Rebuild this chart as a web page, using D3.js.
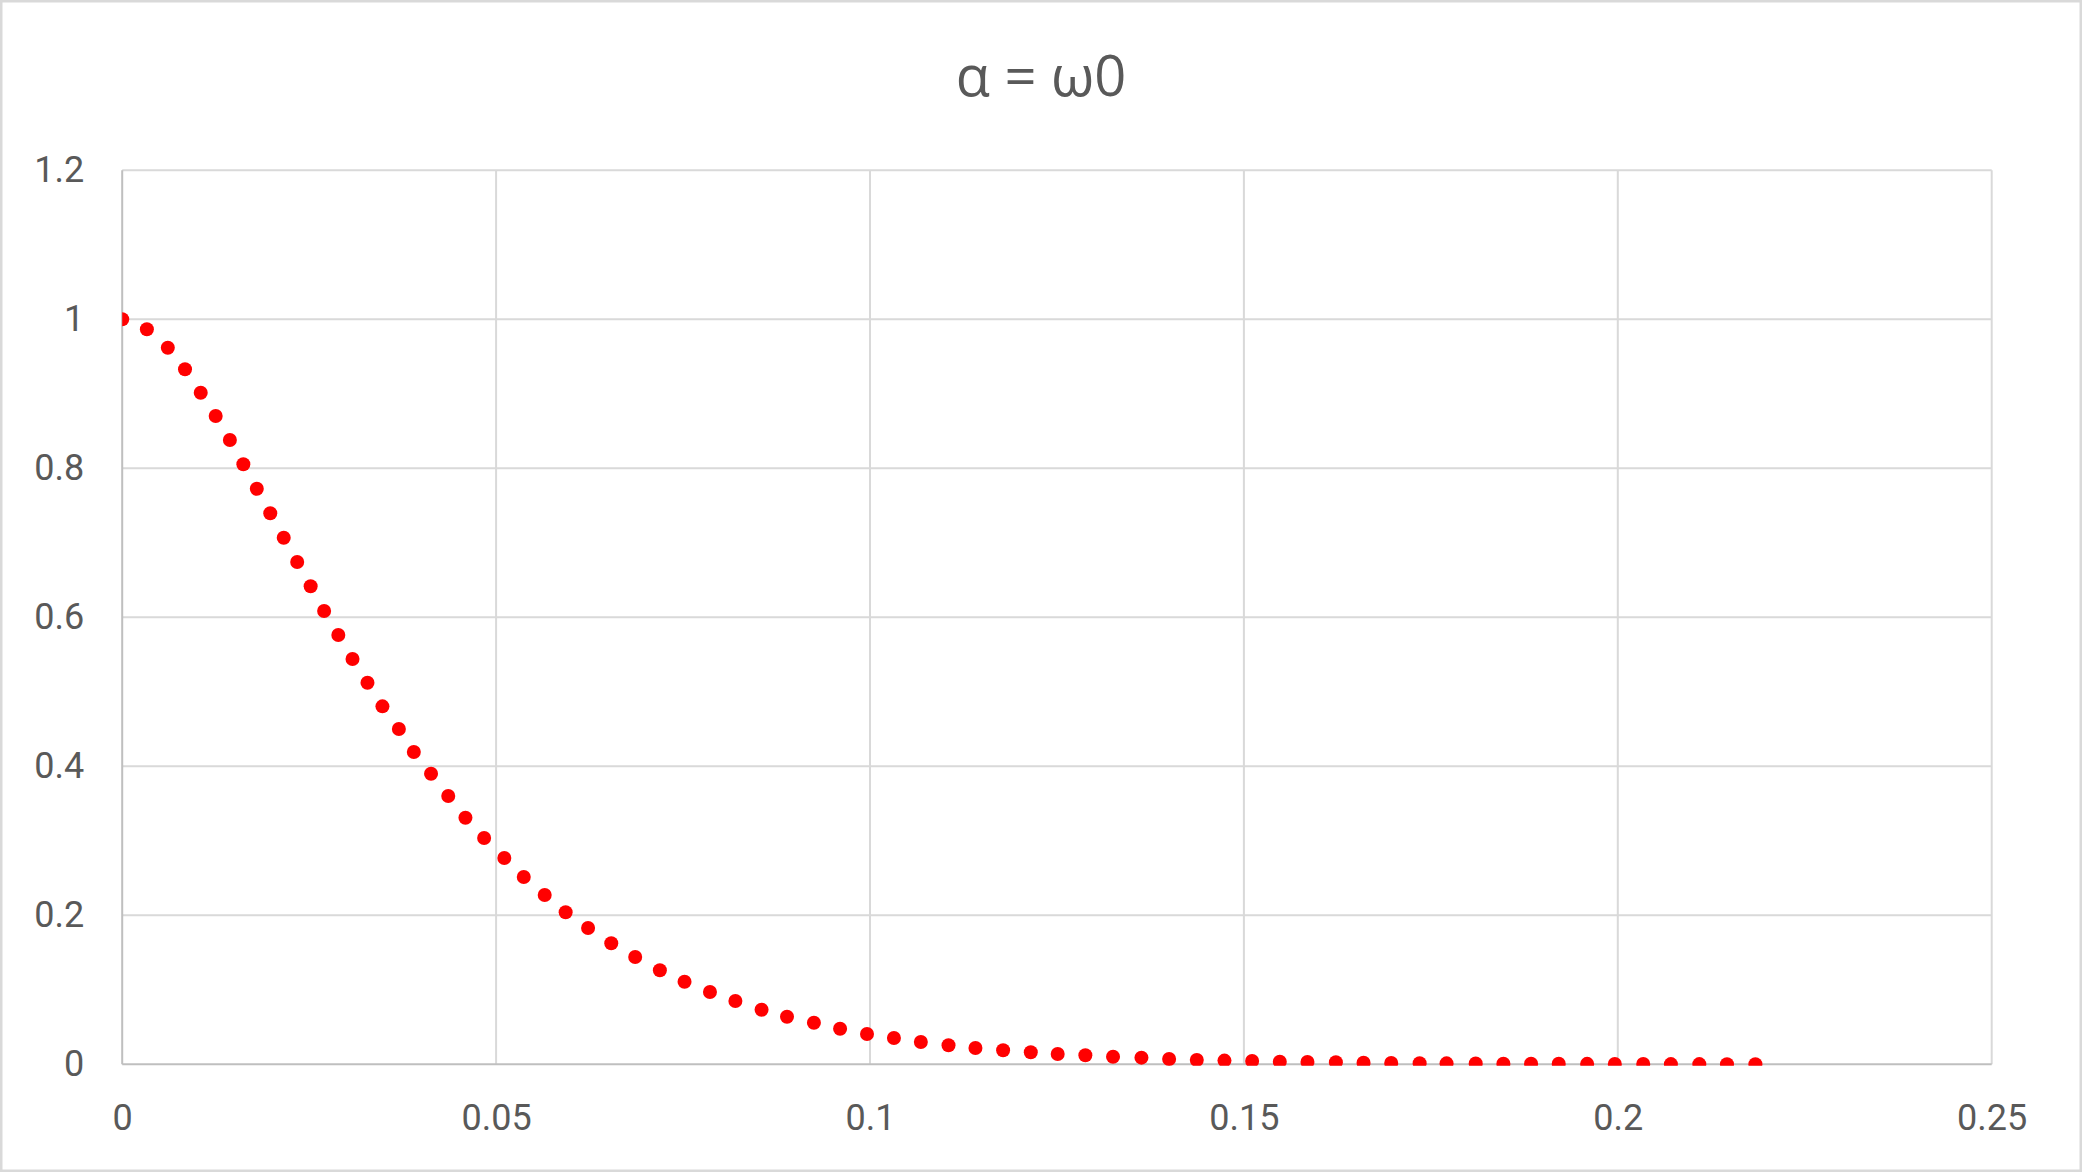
<!DOCTYPE html>
<html>
<head>
<meta charset="utf-8">
<script src="https://cdn.jsdelivr.net/npm/d3@7"></script>
<style>
  html, body { margin: 0; padding: 0; background: #ffffff; }
  svg { display: block; }
</style>
</head>
<body>
<svg id="chart" width="2082" height="1172"></svg>
<script>
// ---- data ----
const chartTitle = "α = ω0";

const xValues = [
  0.0000, 0.0033, 0.0061, 0.0084, 0.0105, 0.0125, 0.0144, 0.0162, 0.0180, 0.0198,
  0.0216, 0.0234, 0.0252, 0.0270, 0.0289, 0.0308, 0.0328, 0.0348, 0.0370, 0.0390,
  0.0413, 0.0436, 0.0459, 0.0484, 0.0511, 0.0537, 0.0565, 0.0593, 0.0623, 0.0654,
  0.0686, 0.0719, 0.0752, 0.0786, 0.0820, 0.0855, 0.0889, 0.0925, 0.0960, 0.0996,
  0.1032, 0.1068, 0.1105, 0.1141, 0.1178, 0.1215, 0.1251, 0.1288, 0.1325, 0.1363,
  0.1400, 0.1437, 0.1474, 0.1511, 0.1548, 0.1585, 0.1623, 0.1660, 0.1697, 0.1735,
  0.1771, 0.1810, 0.1847, 0.1884, 0.1921, 0.1959, 0.1996, 0.2034, 0.2071, 0.2109,
  0.2146, 0.2184
];

const yValues = [
  1.0000, 0.9866, 0.9619, 0.9329, 0.9015, 0.8702, 0.8380, 0.8054, 0.7726, 0.7396,
  0.7068, 0.6742, 0.6416, 0.6085, 0.5762, 0.5440, 0.5122, 0.4805, 0.4501, 0.4192,
  0.3901, 0.3601, 0.3310, 0.3038, 0.2769, 0.2514, 0.2272, 0.2040, 0.1830, 0.1624,
  0.1440, 0.1262, 0.1109, 0.0970, 0.0850, 0.0733, 0.0639, 0.0558, 0.0478, 0.0407,
  0.0353, 0.0299, 0.0255, 0.0219, 0.0188, 0.0161, 0.0138, 0.0121, 0.0102, 0.0089,
  0.0071, 0.0058, 0.0050, 0.0044, 0.0035, 0.0030, 0.0027, 0.0020, 0.0017, 0.0015,
  0.0013, 0.0011, 0.0009, 0.0008, 0.0007, 0.0006, 0.0005, 0.0004, 0.0003, 0.0003,
  0.0002, 0.0002
];

const xTicks = [0, 0.05, 0.1, 0.15, 0.2, 0.25];
const xTickLabels = ["0", "0.05", "0.1", "0.15", "0.2", "0.25"];
const yTicks = [0, 0.2, 0.4, 0.6, 0.8, 1.0, 1.2];
const yTickLabels = ["0", "0.2", "0.4", "0.6", "0.8", "1", "1.2"];

// ---- layout ----
const W = 2082, H = 1172;
const plot = { left: 122.2, right: 1991.7, top: 170.3, bottom: 1064.3 };

const svg = d3.select("#chart");

svg.append("rect")
  .attr("x", 1.25).attr("y", 1.25)
  .attr("width", W - 2.5).attr("height", H - 2.5)
  .attr("fill", "#ffffff")
  .attr("stroke", "#d9d9d9")
  .attr("stroke-width", 2.5);

const x = d3.scaleLinear().domain([0, 0.25]).range([plot.left, plot.right]);
const y = d3.scaleLinear().domain([0, 1.2]).range([plot.bottom, plot.top]);

// gridlines
const grid = svg.append("g").attr("class", "grid");
grid.selectAll("line.h")
  .data(yTicks.filter(d => d > 0))
  .join("line")
  .attr("class", "h")
  .attr("x1", x(0)).attr("x2", x(0.25))
  .attr("y1", d => y(d)).attr("y2", d => y(d))
  .attr("stroke", "#d9d9d9").attr("stroke-width", 2);
grid.selectAll("line.v")
  .data(xTicks.filter(d => d > 0))
  .join("line")
  .attr("class", "v")
  .attr("x1", d => x(d)).attr("x2", d => x(d))
  .attr("y1", y(0)).attr("y2", y(1.2))
  .attr("stroke", "#d9d9d9").attr("stroke-width", 2);

// axis lines
svg.append("line")
  .attr("x1", x(0)).attr("x2", x(0))
  .attr("y1", y(0)).attr("y2", y(1.2))
  .attr("stroke", "#bfbfbf").attr("stroke-width", 2);
svg.append("line")
  .attr("x1", x(0)).attr("x2", x(0.25))
  .attr("y1", y(0)).attr("y2", y(0))
  .attr("stroke", "#bfbfbf").attr("stroke-width", 2);

// clip to plot area
svg.append("defs").append("clipPath").attr("id", "plotClip")
  .append("rect")
  .attr("x", x(0)).attr("y", y(1.2))
  .attr("width", x(0.25) - x(0))
  .attr("height", y(0) - y(1.2) + 1.5);

// series (round dots)
const points = xValues.map((v, i) => ({ x: v, y: yValues[i] }));
svg.append("g")
  .attr("clip-path", "url(#plotClip)")
  .selectAll("circle")
  .data(points)
  .join("circle")
  .attr("cx", d => x(d.x))
  .attr("cy", d => y(d.y))
  .attr("r", 7)
  .attr("fill", "#ff0000");

// tick labels via d3 axes
const xAxis = d3.axisBottom(x)
  .tickValues(xTicks)
  .tickFormat((d, i) => xTickLabels[i])
  .tickSize(0).tickPadding(40);
const gx = svg.append("g")
  .attr("transform", `translate(0,${y(0)})`)
  .call(xAxis);
gx.select(".domain").remove();
gx.selectAll("text")
  .attr("fill", "#595959")
  .style("font-family", "Roboto, 'Liberation Sans', Arial, sans-serif")
  .style("font-size", "36px");

const yAxis = d3.axisLeft(y)
  .tickValues(yTicks)
  .tickFormat((d, i) => yTickLabels[i])
  .tickSize(0).tickPadding(38);
const gy = svg.append("g")
  .attr("transform", `translate(${x(0)},0)`)
  .call(yAxis);
gy.select(".domain").remove();
gy.selectAll("text")
  .attr("fill", "#595959")
  .style("font-family", "Roboto, 'Liberation Sans', Arial, sans-serif")
  .style("font-size", "36px");

// title
svg.append("text")
  .attr("x", 1041)
  .attr("y", 96)
  .attr("text-anchor", "middle")
  .attr("fill", "#595959")
  .style("font-family", "'Open Sans', 'Noto Sans', sans-serif")
  .style("font-size", "56px")
  .text(chartTitle);
</script>
</body>
</html>
